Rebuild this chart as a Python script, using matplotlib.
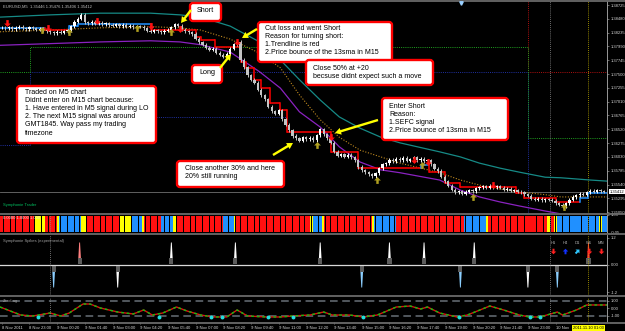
import numpy as np
import matplotlib.pyplot as plt
from matplotlib.patches import FancyBboxPatch
from matplotlib.path import Path
from matplotlib.markers import MarkerStyle
from matplotlib.transforms import Affine2D

plt.rcParams['font.family'] = ['Liberation Sans', 'DejaVu Sans']

W, H = 625, 331
NBARS = 350.7

# ---- EURUSD M5, 8-10 Nov 2011 ----
# one close every second bar (bar index 2*i + 1)
closes = [
    1.3832, 1.3831, 1.3833, 1.3830, 1.3832, 1.3834, 1.3831, 1.3830, 1.3833, 1.3831,
    1.3829, 1.3830, 1.3828, 1.3826, 1.3824, 1.3822, 1.3825, 1.3823, 1.3826, 1.3828,
    1.3835, 1.3843, 1.3848, 1.3855, 1.3842, 1.3840, 1.3843, 1.3839, 1.3841, 1.3838,
    1.3840, 1.3837, 1.3836, 1.3838, 1.3835, 1.3837, 1.3834, 1.3836, 1.3833, 1.3835,
    1.3834, 1.3831, 1.3827, 1.3825, 1.3828, 1.3826, 1.3824, 1.3827, 1.3829, 1.3833,
    1.3838, 1.3836, 1.3829, 1.3826, 1.3824, 1.3821, 1.3813, 1.3806, 1.3802, 1.3797,
    1.3793, 1.3795, 1.3788, 1.3784, 1.3781, 1.3786, 1.3795, 1.3803, 1.3807, 1.3775,
    1.3762, 1.3748, 1.3740, 1.3735, 1.3722, 1.3712, 1.3705, 1.3692, 1.3684, 1.3680,
    1.3686, 1.3670, 1.3660, 1.3650, 1.3640, 1.3636, 1.3632, 1.3638, 1.3634, 1.3637,
    1.3633, 1.3641, 1.3652, 1.3643, 1.3636, 1.3628, 1.3612, 1.3605, 1.3608, 1.3603,
    1.3607, 1.3602, 1.3597, 1.3585, 1.3579, 1.3576, 1.3572, 1.3569, 1.3574, 1.3583,
    1.3590, 1.3592, 1.3598, 1.3595, 1.3600, 1.3597, 1.3601, 1.3596, 1.3599, 1.3602,
    1.3597, 1.3600, 1.3595, 1.3597, 1.3590, 1.3582, 1.3578, 1.3568, 1.3560, 1.3552,
    1.3545, 1.3540, 1.3542, 1.3538, 1.3541, 1.3544, 1.3542, 1.3547, 1.3549, 1.3551,
    1.3548, 1.3552, 1.3549, 1.3551, 1.3548, 1.3545, 1.3546, 1.3543, 1.3544, 1.3541,
    1.3540, 1.3537, 1.3534, 1.3529, 1.3527, 1.3529, 1.3526, 1.3528, 1.3527, 1.3525,
    1.3521, 1.3518, 1.3516, 1.3521, 1.3527, 1.3532, 1.3535, 1.3538, 1.3536, 1.3540,
    1.3543, 1.3541, 1.3544, 1.3542, 1.3541,
]
last_price = 1.35412

# trailing line: first bar of each step, level, 1 = blue (up) / 0 = red (down)
trail_start = [0, 26, 40, 45, 87, 113, 116, 124, 139, 142, 147, 151, 156, 162, 166,
               191, 207, 243, 248, 257, 266, 298, 303, 321, 335, 340]
trail_level = [1.3832, 1.3828, 1.3836, 1.3839, 1.3828, 1.3816, 1.3810, 1.3798, 1.3771,
               1.3761, 1.3739, 1.3725, 1.3699, 1.3686, 1.3647, 1.3612, 1.3583, 1.3589,
               1.3576, 1.3557, 1.3550, 1.3539, 1.3530, 1.3523, 1.3530, 1.3539]
trail_up = [1, 0, 1, 1, 0, 0, 0, 0, 0, 0, 0, 0, 0, 0, 0, 0, 0, 1, 0, 0, 0, 0, 0, 0, 1, 1]

# envelope / moving averages sampled along the chart
ma_bars = [0, 29, 58, 87, 104, 116, 133, 150, 162, 173, 185, 196, 208, 220, 231, 254,
           266, 277, 289, 300, 315, 324, 341, 351]
ma_upper = [1.3851, 1.3855, 1.3858, 1.3858, 1.3855, 1.3851, 1.3835, 1.3807, 1.3775,
            1.3740, 1.3704, 1.3674, 1.3654, 1.3638, 1.3628, 1.3612, 1.3603, 1.3592,
            1.3583, 1.3576, 1.3567, 1.3566, 1.3562, 1.3560]
ma_mid = [1.3825, 1.3828, 1.3832, 1.3834, 1.3832, 1.3828, 1.3812, 1.3787, 1.3761,
          1.3713, 1.3669, 1.3638, 1.3615, 1.3603, 1.3592, 1.3575, 1.3562, 1.3553,
          1.3546, 1.3541, 1.3536, 1.3532, 1.3532, 1.3532]
ma_lower = [1.3801, 1.3804, 1.3807, 1.3809, 1.3807, 1.3802, 1.3789, 1.3754, 1.3725,
            1.3683, 1.3656, 1.3621, 1.3594, 1.3580, 1.3575, 1.3562, 1.3544, 1.3532,
            1.3523, 1.3516, 1.3507, 1.3502, 1.3495, 1.3491]

# daily pivot levels (days start at these bars)
piv_days = [0, 17.3, 305, 351]
piv_green = [1.3754, 1.3798, 1.3637]
piv_red = [1.3905, 1.3890, 1.3754]
piv_blue = [1.3624, 1.3754, 1.3480]
piv_blue2_span = [17.3, 166]
piv_blue2 = 1.3674

# signal arrows
sell_bars = [4, 28, 56, 87, 104, 137, 191, 239, 247, 285]
sell_price = [1.3841, 1.3832, 1.3844, 1.3835, 1.3830, 1.3807, 1.3638, 1.3597, 1.3594, 1.3553]
buy_bars = [24, 40, 79, 99, 183, 218, 244, 273, 326]
buy_price = [1.3828, 1.3825, 1.3832, 1.3825, 1.3624, 1.3562, 1.3589, 1.3532, 1.3514]

price_ticks = [1.38725, 1.38480, 1.38235, 1.37990, 1.37745, 1.37500, 1.37255, 1.37010,
               1.36765, 1.36520, 1.36275, 1.36030, 1.35785, 1.35540, 1.35295, 1.35050]

# Symphonie colour bars (run lengths in bars)
cb_colors = ['r', 'y', 'r', 'y', 'b', 'y', 'r', 'y', 'b', 'y', 'r', 'b', 'y', 'r', 'b', 'y',
             'r', 'y', 'b', 'y', 'r', 'y', 'b', 'r', 'b', 'y', 'r', 'y', 'r', 'y', 'b', 'y', 'b']
cb_counts = [20, 6, 7, 1, 13, 3, 19, 7, 6, 1, 10, 7, 2, 27, 6, 1,
             43, 2, 5, 1, 28, 1, 13, 39, 13, 1, 34, 2, 2, 2, 24, 2, 3]

# Symphonie spikes
spike_bars = [31, 46, 68, 99, 136, 185, 209, 225, 245, 266, 274, 305, 322, 340]
spike_vals = [-1, 1, -1, 1, 1, 1, -1, 1, 1, -1, 1, -1, -1, 1]
spike_cols = ['#8ccfff', '#ff8080', 'w', 'w', 'w', 'w', '#8ccfff', 'w', 'w', '#8ccfff',
              'w', 'w', '#8ccfff', '#ff3030']
tf_names = ['H1', 'H4', 'D1', 'W1', 'MN']
tf_dir = ['down', 'up', 'upright', 'down', 'down']
tf_cols = ['#ff2020', '#1030ff', '#30c8ff', '#ff2020', '#ff2020']

# zero lag oscillator
zl_bars = [0, 12, 19, 29, 35, 40, 48, 52, 58, 68, 77, 83, 88, 94, 102, 108, 116, 123,
           131, 137, 143, 154, 162, 169, 179, 187, 192, 202, 210, 218, 229, 237, 243,
           247, 254, 264, 270, 283, 291, 300, 306, 312, 322, 325, 333, 339, 343, 351]
zl_vals = [0.2, -0.87, -1.0, -0.6, -1.0, -0.6, 0.6, 0.6, 0.07, -0.47, -0.73, -0.2,
           -0.87, -0.6, 0.2, -0.33, -0.87, -1.13, -1.13, -0.2, -1.0, -1.13, -1.13, -1.0,
           -0.87, -0.47, -0.87, -0.87, -1.13, -0.87, 0.2, 0.33, -0.07, 0.2, -0.6, -1.13,
           -0.87, 0.33, -0.2, -0.87, -1.13, -1.13, -0.47, -0.87, -0.2, 0.47, 0.47, 0.47]
zl_dot_bars = [22, 92, 122, 128, 155, 169, 210, 265, 306, 312]
zl_dot_vals = [-1.15, -1.15, -1.2, -1.2, -1.2, -1.15, -1.2, -1.2, -1.2, -1.2]

time_labels = ['8 Nov 2011', '8 Nov 23:00', '9 Nov 00:20', '9 Nov 01:40', '9 Nov 03:00',
               '9 Nov 04:20', '9 Nov 05:40', '9 Nov 07:00', '9 Nov 08:20', '9 Nov 09:40',
               '9 Nov 11:00', '9 Nov 12:20', '9 Nov 13:40', '9 Nov 15:00', '9 Nov 16:20',
               '9 Nov 17:40', '9 Nov 19:00', '9 Nov 20:20', '9 Nov 21:40', '9 Nov 23:00',
               '10 Nov']
day_sep_bars = [29, 318]
cross_bar = 340
cross_label = '2011.11.10 01:00'

# ---------------------------------------------------------------
fig = plt.figure(figsize=(W / 100, H / 100), dpi=100, facecolor='black')


def panel(top, bottom):
    a = fig.add_axes([0, 1 - bottom / H, 607 / W, (bottom - top) / H], facecolor='black')
    a.set_xlim(0, NBARS)
    for s in ['top', 'left', 'bottom']:
        a.spines[s].set_visible(False)
    a.spines['right'].set_color('#b0b0b0')
    a.spines['right'].set_linewidth(0.6)
    a.yaxis.tick_right()
    a.tick_params(axis='y', colors='#b0b0b0', labelcolor='#d8d8d8', labelsize=3,
                  length=1.5, width=0.4, pad=1)
    a.tick_params(axis='x', bottom=False, labelbottom=False)
    return a


ax = panel(1, 213)
ax_c = panel(215, 233)
ax_s = panel(235, 295)
ax_z = panel(297, 322)

# --- main price panel ---
ax.set_ylim(1.35035, 1.38796)
ax.set_yticks(price_ticks)
ax.set_yticklabels(['%.5f' % p for p in price_ticks])


def pivot(levels, color):
    ax.step(piv_days, levels + [levels[-1]], where='post', color=color, lw=0.7,
            ls=(0, (1, 1.2)))


pivot(piv_red, '#b01010')
pivot(piv_blue, '#2030a0')
pivot(piv_green, '#20a020')
ax.plot(piv_blue2_span, [piv_blue2, piv_blue2], color='#2030a0', lw=0.7, ls=(0, (1, 1.2)))

ax.axhline(last_price, color='#707070', lw=0.6)
for b in day_sep_bars[1:]:
    ax.axvline(b, color='#909090', lw=0.6, ls=(0, (1, 1.5)))
ax.axvline(cross_bar, color='#c8b400', lw=0.6, ls=(0, (1, 1.5)))

ax.plot(ma_bars, ma_upper, color='#168a86', lw=0.9)
ax.plot(ma_bars, ma_lower, color='#8a22c0', lw=0.9)
ax.plot(ma_bars, ma_mid, color='#c08a20', lw=0.8, ls=(0, (1, 1.5)))

# trailing line drawn under the candles
ends = trail_start[1:] + [NBARS]
for i in range(len(trail_start)):
    col = '#2090ff' if trail_up[i] else '#ff0000'
    ax.plot([trail_start[i], ends[i]], [trail_level[i]] * 2, color=col, lw=1.1,
            solid_capstyle='butt', zorder=2)
    if i > 0:
        ax.plot([trail_start[i]] * 2, [trail_level[i - 1], trail_level[i]], color=col,
                lw=1.1, zorder=2)

cx = np.arange(len(closes)) * 2 + 1
opens = [closes[0]] + closes[:-1]
for x, o, c in zip(cx, opens, closes):
    col = 'white' if c >= o else '#c4c4c4'
    lo, hi = min(o, c), max(o, c)
    ax.vlines(x, lo - 0.00028, hi + 0.00028, color=col, lw=0.7, zorder=3)
    ax.bar(x, max(hi - lo, 0.00005), bottom=lo, width=1.3, color=col, lw=0, zorder=3)

down_path = Path([(-0.18, 0.5), (0.18, 0.5), (0.18, 0.0), (0.5, 0.0), (0, -0.5),
                  (-0.5, 0.0), (-0.18, 0.0), (-0.18, 0.5)],
                 [Path.MOVETO] + [Path.LINETO] * 6 + [Path.CLOSEPOLY])
up_path = down_path.transformed(Affine2D().scale(1, -1))
ax.scatter(sell_bars, sell_price, marker=down_path, s=24, color='#ff1010', lw=0, zorder=5)
ax.scatter(buy_bars, buy_price, marker=up_path, s=24, color='#b0a020', lw=0, zorder=5)

ax.text(0.005, 0.985, 'EURUSD,M5  1.35446 1.35476 1.35406 1.35412', transform=ax.transAxes,
        color='#c0c0c0', fontsize=3, va='top')
ax.text(0.005, 0.03, 'Symphonie Trader', transform=ax.transAxes, color='#00c060',
        fontsize=3, va='bottom')
ax.text(1.004, last_price, '%.5f' % last_price, transform=ax.get_yaxis_transform(),
        fontsize=3, color='black', va='center', ha='left',
        bbox=dict(boxstyle='square,pad=0.15', fc='white', ec='none'), zorder=6)

# --- colour bar panel ---
cmap = {'r': '#ff1010', 'y': '#ffff00', 'b': '#2090ff'}
bar_cols = []
for c, n in zip(cb_colors, cb_counts):
    bar_cols += [cmap[c]] * n
ax_c.bar(np.arange(len(bar_cols)) + 0.5, 1.0, width=0.85, color=bar_cols, lw=0)
ax_c.set_ylim(-0.05, 1.05)
ax_c.set_yticks([1.05, -0.05])
ax_c.set_yticklabels(['1.05', '-0.05'])
ax_c.text(0.005, 0.92, '0.0000 1.0000 1.000', transform=ax_c.transAxes, color='#e8e8e8',
          fontsize=3, va='top')

# --- spikes panel ---
ax_s.set_ylim(-1.333, 1.333)
ax_s.set_yticks([1.2, 0, -1.2])
ax_s.set_yticklabels(['1.2', '0.00', '-1.2'])
ax_s.axhline(0, color='#d8d8d8', lw=0.9)
for b, v, c in zip(spike_bars, spike_vals, spike_cols):
    ax_s.fill([b - 0.9, b - 0.25, b + 0.25, b + 0.9], [0.1 * v, v, v, 0.1 * v], color=c,
              lw=0)
    ax_s.bar(b, 0.26 * v, bottom=0.06 * v, width=2.4, color='#5c5c5c', lw=0)
ax_s.text(0.005, 0.93, 'Symphonie Spikes (experimental)', transform=ax_s.transAxes,
          color='#a0a0a0', fontsize=3, va='top')

# --- zero lag panel ---
ax_z.set_ylim(-1.8, 1.533)
ax_z.set_yticks([1.0, 0.0, -1.0])
ax_z.set_yticklabels(['1.00', '0.00', '-1.00'])
for lvl in [1.0, -1.0]:
    ax_z.axhline(lvl, color='#687078', lw=1.1, ls=(0, (5, 3)))
ax_z.plot(zl_bars, zl_vals, color='#e01010', lw=1.0)
ax_z.plot(zl_bars, zl_vals, color='#10c010', lw=1.0, ls=(0, (2, 2)))
ax_z.scatter(zl_dot_bars, zl_dot_vals, s=8, color='#20e0e0', lw=0, zorder=5)
ax_z.text(0.005, 0.93, 'ZeroLag', transform=ax_z.transAxes, color='#a0a0a0', fontsize=3,
          va='top')
ax_z.set_xticks(np.arange(len(time_labels)) * 16 + 1)
ax_z.set_xticklabels(time_labels)
ax_z.tick_params(axis='x', bottom=True, labelbottom=True, colors='#b0b0b0',
                 labelcolor='#d8d8d8', labelsize=3, length=1.5, width=0.4, pad=1.2)
for lab in ax_z.get_xticklabels():
    lab.set_ha('left')
ax_z.text(cross_bar, -0.16, cross_label, transform=ax_z.get_xaxis_transform(), fontsize=3,
          color='black', ha='center', va='top',
          bbox=dict(boxstyle='square,pad=0.15', fc='#ffff00', ec='none'))

for a in [ax_c, ax_s, ax_z]:
    for b in day_sep_bars:
        a.axvline(b, color='#909090', lw=0.6, ls=(0, (1, 1.5)))
    a.axvline(cross_bar, color='#c8b400', lw=0.6, ls=(0, (1, 1.5)))

# --- overlay in pixel units for separators, notes and arrows ---
ov = fig.add_axes([0, 0, 1, 1])
ov.set_xlim(0, W)
ov.set_ylim(H, 0)
ov.axis('off')
ov.patch.set_alpha(0)

for y in [0.6, 214, 234, 296, 323]:
    ov.plot([0, W], [y, y], color='#6a6a6a', lw=1.3)
ov.plot(461, 3, marker='v', color='#9ad0ff', ms=2.5)

# timeframe flags in spikes panel
tf_x = [553, 565, 577, 589, 601]
for x, name, d, c in zip(tf_x, tf_names, tf_dir, tf_cols):
    ov.text(x, 243, name, fontsize=3, color='#b0b0b0', ha='center', va='center')
    if d == 'down':
        m = MarkerStyle(down_path)
    elif d == 'up':
        m = MarkerStyle(up_path)
    else:
        m = MarkerStyle(up_path, transform=Affine2D().rotate_deg(-45))
    ov.scatter([x], [250.5], marker=m, s=16, color=c, lw=0, zorder=6)


def note(x0, y0, x1, y1, text, tx, ty, size=5, ls=1.2, ha='left'):
    ov.add_patch(FancyBboxPatch((x0, y0), x1 - x0, y1 - y0,
                                boxstyle='round,pad=0,rounding_size=3',
                                fc='white', ec='#ff0000', lw=1.7, zorder=8))
    ov.text(tx, ty, text, fontsize=size, color='black', ha=ha, va='top',
            linespacing=ls, zorder=9)


def yarrow(x0, y0, x1, y1):
    ov.arrow(x0, y0, x1 - x0, y1 - y0, width=2.4, head_width=7, head_length=6,
             length_includes_head=True, fc='#ffff00', ec='none', zorder=9)


note(190, 3, 221, 21, 'Short', 205.5, 7.5, size=5.2, ha='center')
note(192, 65, 222, 83, 'Long', 207, 69.5, size=5.2, ha='center')
note(258, 22, 392, 62, 'Cut loss and went Short\nReason for turning short:\n'
     '1.Trendline is red\n2.Price bounce of the 13sma in M15', 265, 25.5)
note(306, 60, 433, 85, 'Close 50% at +20\nbecsuse didnt expect such a move', 313, 64.5)
note(17, 86, 156, 143, 'Traded on M5 chart\nDidnt enter on M15 chart because:\n'
     '1. Have entered in M5 signal during LO\n2. The next M15 signal was around\n'
     'GMT1845. Way pass my trading\ntimezone', 25, 88.5, ls=1.25)
note(382, 98, 508, 140, 'Enter Short\nReason:\n1.SEFC signal\n'
     '2.Price bounce of 13sma in M15', 389, 103)
note(177, 161, 284, 187, 'Close another 30% and here\n20% still running', 185, 165.5)

yarrow(191, 10, 181, 23)
yarrow(220, 68, 231, 54)
yarrow(257, 29, 242, 38)
yarrow(378, 120, 335, 133)
yarrow(273, 155, 293, 143)

fig.savefig('out.png', dpi=100, facecolor='black')
